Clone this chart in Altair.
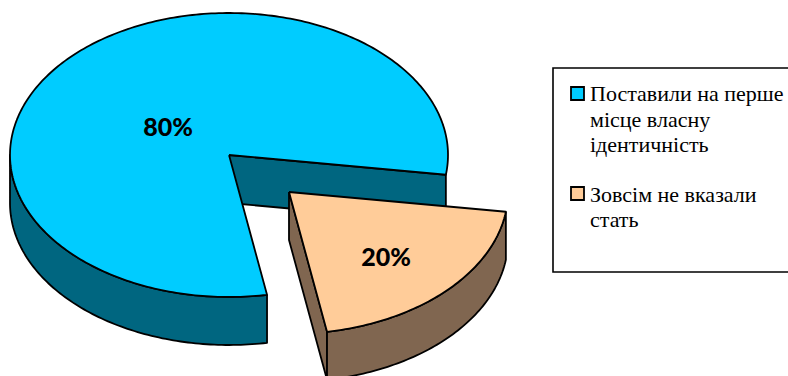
import math
import altair as alt
import pandas as pd

# Survey answers
shares = [80, 20]
share_labels = ["80%", "20%"]
top_colors = ["#00CCFF", "#FFCC99"]
wall_colors = ["#006680", "#806650"]
legend_lines = [
    ["Поставили на перше", "місце власну", "ідентичність"],
    ["Зовсім не вказали", "стать"],
]

W, H = 788, 376

# Pie geometry, in canvas units
CX, CY = 229, 155
RX, RY = 219, 142
DEPTH = 48
START = 8
EXPLODE_X, EXPLODE_Y = 60, 37

x_scale = alt.Scale(domain=[0, W], range=[0, W], nice=False, zero=False)
y_scale = alt.Scale(domain=[0, H], range=[0, H], nice=False, zero=False)


def arc(t0, t1, cx, cy, dy=0, step=1.0):
    n = max(2, int(abs(t1 - t0) / step) + 1)
    pts = []
    for i in range(n + 1):
        t = math.radians(t0 + (t1 - t0) * i / n)
        pts.append((cx + RX * math.cos(t), cy + RY * math.sin(t) + dy))
    return pts


def shape(points, fill, width=1.8):
    pts = list(points) + [points[0]]
    df = pd.DataFrame(pts, columns=["px", "py"]).reset_index()
    return alt.Chart(df).mark_line(
        fill=fill, stroke="black", strokeWidth=width, strokeJoin="round", interpolate="linear"
    ).encode(
        x=alt.X("px:Q", scale=x_scale, axis=None),
        y=alt.Y("py:Q", scale=y_scale, axis=None),
        order="index:O",
    )


small_sweep = shares[1] / sum(shares) * 360
t_a, t_b = START, START + small_sweep
layers = []

# Large slice: inner wall, outer wall, top face
edge_a = arc(t_a, t_a, CX, CY)[0]
layers.append(shape(
    [(CX, CY), edge_a, (edge_a[0], edge_a[1] + DEPTH), (CX, CY + DEPTH)], wall_colors[0]))
lower = arc(t_b, 180, CX, CY)
layers.append(shape(lower + [(x, y + DEPTH) for x, y in reversed(lower)], wall_colors[0]))
layers.append(shape([(CX, CY)] + arc(t_b, 360 + t_a, CX, CY), top_colors[0]))

# Pulled-out slice: cut wall, outer wall, top face
sx, sy = CX + EXPLODE_X, CY + EXPLODE_Y
rim = arc(t_a, t_b, sx, sy)
layers.append(shape([(sx, sy), rim[-1], (rim[-1][0], rim[-1][1] + DEPTH), (sx, sy + DEPTH)], wall_colors[1]))
layers.append(shape(rim + [(x, y + DEPTH) for x, y in reversed(rim)], wall_colors[1]))
layers.append(shape([(sx, sy)] + rim, top_colors[1]))

# Value labels on the top faces
labels = pd.DataFrame({"label": share_labels, "px": [168, 386], "py": [128, 258]})
layers.append(alt.Chart(labels).mark_text(
    font="Lato", fontWeight=900, fontSize=25, color="black"
).encode(
    x=alt.X("px:Q", scale=x_scale, axis=None),
    y=alt.Y("py:Q", scale=y_scale, axis=None),
    text="label:N",
))

# Legend frame, swatches and wrapped entries
frame = pd.DataFrame({"x0": [553], "x1": [W + 5], "y0": [68], "y1": [272]})
layers.append(alt.Chart(frame).mark_rect(fill="white", stroke="black", strokeWidth=1.6).encode(
    x=alt.X("x0:Q", scale=x_scale, axis=None), x2="x1:Q",
    y=alt.Y("y0:Q", scale=y_scale, axis=None), y2="y1:Q",
))
swatches = pd.DataFrame({
    "x0": [571, 571], "x1": [584, 584], "y0": [87, 187], "y1": [100, 200], "color": top_colors,
})
layers.append(alt.Chart(swatches).mark_rect(stroke="black", strokeWidth=1.8).encode(
    x=alt.X("x0:Q", scale=x_scale, axis=None), x2="x1:Q",
    y=alt.Y("y0:Q", scale=y_scale, axis=None), y2="y1:Q",
    fill=alt.Fill("color:N", scale=None),
))
entry_y = [[101, 127, 152], [202, 227]]
rows = [
    {"line": line, "px": 590, "py": y}
    for entry, ys in zip(legend_lines, entry_y)
    for line, y in zip(entry, ys)
]
layers.append(alt.Chart(pd.DataFrame(rows)).mark_text(
    font="Liberation Serif", fontSize=22, align="left", baseline="alphabetic", color="black"
).encode(
    x=alt.X("px:Q", scale=x_scale, axis=None),
    y=alt.Y("py:Q", scale=y_scale, axis=None),
    text="line:N",
))

chart = alt.layer(*layers).properties(
    width=W, height=H, padding=0, autosize=alt.AutoSizeParams(type="none"), background="white",
).configure_view(stroke=None)

chart.save("out.html", embed_options={"renderer": "svg", "actions": False})
